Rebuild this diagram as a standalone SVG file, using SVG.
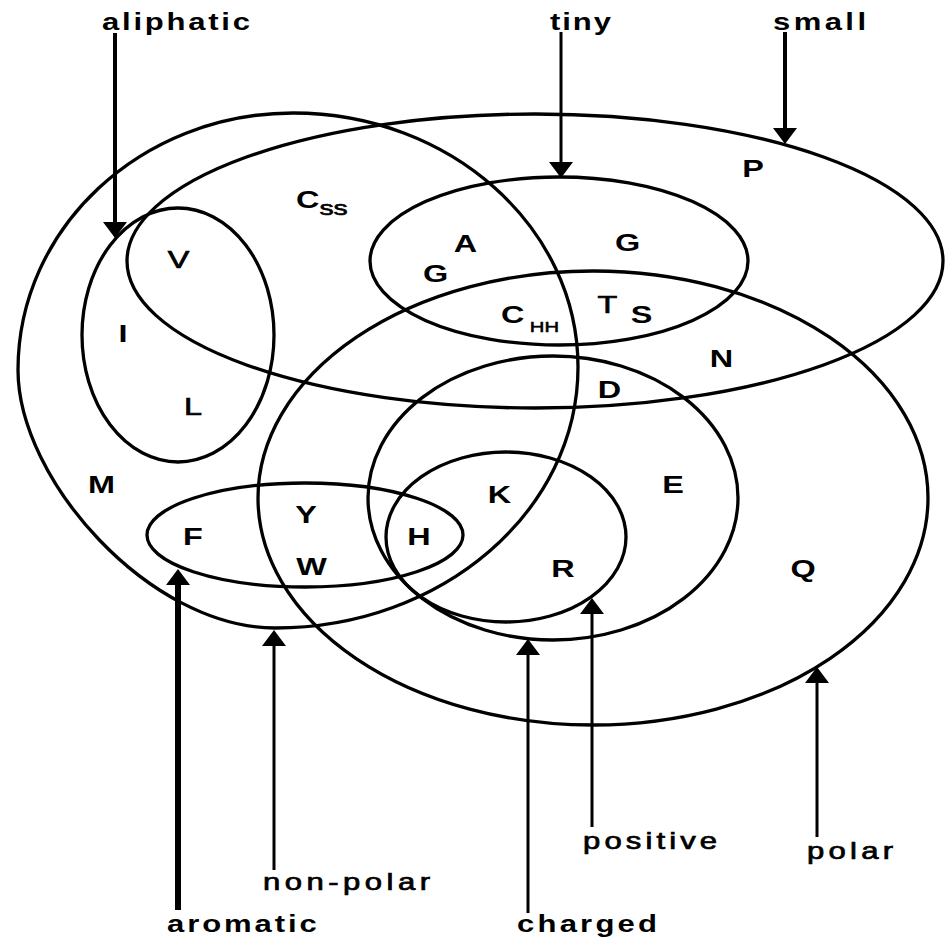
<svg xmlns="http://www.w3.org/2000/svg" width="946" height="938" viewBox="0 0 946 938">
<style>
  .set{fill:none;stroke:#000;stroke-width:3.3}
  .arr{stroke:#000;stroke-width:3;fill:none;marker-end:url(#ah)}
  .lbl{font-family:"Liberation Sans",Arial,Helvetica,sans-serif;font-size:23px;fill:#000}
  .b{font-weight:bold}
  .m{stroke:#000;stroke-width:0.7}
  .aa{font-family:"Liberation Sans",Arial,Helvetica,sans-serif;font-size:24px;fill:#000;text-anchor:middle}
  .aas{font-family:"Liberation Sans",Arial,Helvetica,sans-serif;font-size:24px;fill:#000}
</style>
<defs>
  <marker id="ah" viewBox="0 0 16 24" refX="12" refY="12" markerWidth="16" markerHeight="24" markerUnits="userSpaceOnUse" orient="auto">
    <path d="M0,0 L16,12 L0,24 z" fill="#000"/>
  </marker>
</defs>
<rect width="946" height="938" fill="#fff"/>

<g id="nonpolar"><path class="set" d="M293,113 C450,113 578,227 578,367 C578,511 442,628 275,628 C150,628 18,480 18,370 C18,228 141,113 293,113 Z"/></g>
<g id="small"><ellipse class="set" cx="535" cy="261" rx="408" ry="147"/></g>
<g id="tiny"><ellipse class="set" cx="559" cy="261" rx="189" ry="84"/></g>
<g id="aliphatic"><ellipse class="set" cx="178" cy="335" rx="96" ry="127"/></g>
<g id="polar"><ellipse class="set" cx="593" cy="498" rx="335" ry="227"/></g>
<g id="charged"><ellipse class="set" cx="553" cy="498" rx="185" ry="142"/></g>
<g id="positive"><ellipse class="set" cx="506" cy="537" rx="120" ry="85"/></g>
<g id="aromatic"><ellipse class="set" cx="305" cy="535" rx="158" ry="52"/></g>

<g id="members">
  <text class="aa m" transform="translate(178.5,268) scale(1.35,1)">V</text>
  <text class="aa b" transform="translate(123,342) scale(1.35,1)">I</text>
  <text class="aa m" transform="translate(193,415) scale(1.35,1)">L</text>
  <text class="aa b" transform="translate(101.5,493) scale(1.35,1)">M</text>
  <text class="aa b" transform="translate(193,545) scale(1.35,1)">F</text>
  <text class="aa b" transform="translate(306,523) scale(1.35,1)">Y</text>
  <text class="aa b" transform="translate(311.5,575) scale(1.35,1)">W</text>
  <text class="aa b" transform="translate(419,545) scale(1.35,1)">H</text>
  <text class="aa b" transform="translate(499.5,503) scale(1.35,1)">K</text>
  <text class="aa b" transform="translate(563,577) scale(1.35,1)">R</text>
  <text class="aa b" transform="translate(673,493) scale(1.35,1)">E</text>
  <text class="aa b" transform="translate(803,577) scale(1.35,1)">Q</text>
  <text class="aa b" transform="translate(609.5,398) scale(1.35,1)">D</text>
  <text class="aa b" transform="translate(721.5,367) scale(1.35,1)">N</text>
  <text class="aa b" transform="translate(753,177) scale(1.35,1)">P</text>
  <text class="aa b" transform="translate(627.5,251) scale(1.35,1)">G</text>
  <text class="aa m" transform="translate(607.5,313) scale(1.35,1)">T</text>
  <text class="aa b" transform="translate(641.5,323) scale(1.35,1)">S</text>
  <text class="aa b" transform="translate(465.5,252) scale(1.35,1)">A</text>
  <text class="aa b" transform="translate(435.5,282) scale(1.35,1)">G</text>
  <text class="aas b" transform="translate(501,323) scale(1.35,1)">C<tspan font-size="15" font-weight="normal" stroke="#000" stroke-width="0.5" dx="4" dy="9">HH</tspan></text>
  <text class="aas b" transform="translate(296,208) scale(1.35,1)">C<tspan font-size="21" font-weight="normal" stroke="#000" stroke-width="0.6" dx="0" dy="7">ss</tspan></text>
</g>

<g id="connectors">
  <line class="arr" style="stroke-width:4" x1="115" y1="33" x2="115" y2="234"/>
  <line class="arr" x1="561" y1="32" x2="561" y2="174"/>
  <line class="arr" style="stroke-width:4" x1="785" y1="32" x2="785" y2="140"/>
  <line class="arr" style="stroke-width:6" x1="178" y1="910" x2="178" y2="573"/>
  <line class="arr" x1="274" y1="870" x2="274" y2="634"/>
  <line class="arr" x1="528" y1="913" x2="528" y2="643"/>
  <line class="arr" x1="592" y1="827" x2="592" y2="602"/>
  <line class="arr" x1="817" y1="837" x2="817" y2="671"/>
</g>

<g id="labels">
  <text class="lbl b" transform="translate(102,30) scale(1.35,1)" textLength="109.6" lengthAdjust="spacing">aliphatic</text>
  <text class="lbl b" transform="translate(550,30) scale(1.35,1)" textLength="45.2" lengthAdjust="spacing">tiny</text>
  <text class="lbl b" transform="translate(773,30) scale(1.35,1)" textLength="68.9" lengthAdjust="spacing">small</text>
  <text class="lbl b" transform="translate(167,932) scale(1.35,1)" textLength="111" lengthAdjust="spacing">aromatic</text>
  <text class="lbl b" transform="translate(517,932) scale(1.35,1)" textLength="103.7" lengthAdjust="spacing">charged</text>
  <text class="lbl m" transform="translate(263,890) scale(1.35,1)" textLength="123.7" lengthAdjust="spacing">non-polar</text>
  <text class="lbl m" transform="translate(583,849) scale(1.35,1)" textLength="99.3" lengthAdjust="spacing">positive</text>
  <text class="lbl m" transform="translate(807,859) scale(1.35,1)" textLength="63.7" lengthAdjust="spacing">polar</text>
</g>
</svg>
